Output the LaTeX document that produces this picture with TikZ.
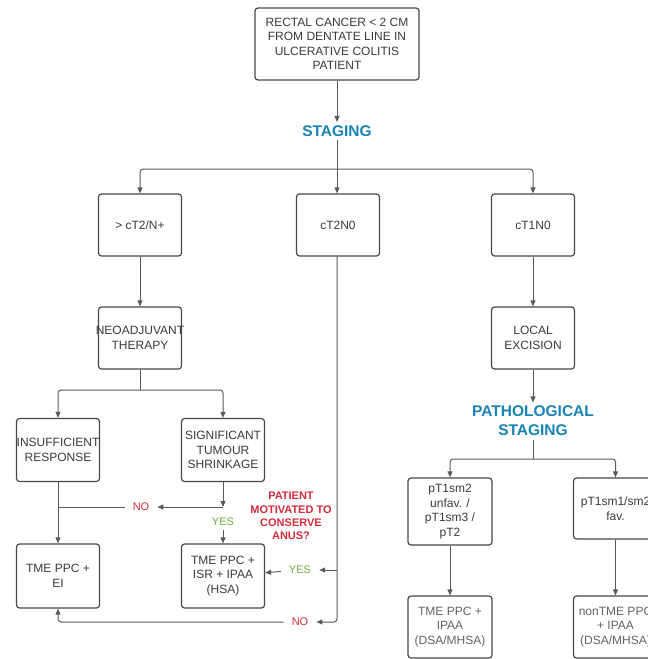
\documentclass[tikz,border=0pt]{standalone}
\usepackage{fontspec}
\setmainfont{Liberation Sans}
\usetikzlibrary{arrows.meta}

\definecolor{boxline}{HTML}{474747}
\definecolor{linkgray}{HTML}{5A5A5A}
\definecolor{txtdark}{HTML}{3A3A3A}
\definecolor{txtgray}{HTML}{626262}
\definecolor{headblue}{HTML}{1883B5}
\definecolor{askred}{HTML}{D12D3A}
\definecolor{yesgreen}{HTML}{6CB33F}

\begin{document}
\begin{tikzpicture}[x=1pt, y=-1pt,
    stepbox/.style={draw=boxline, line width=1.2pt, rounded corners=3pt, align=center,
      inner xsep=0pt, minimum width=83pt, minimum height=62pt, text=txtdark,
      font=\fontsize{12}{14.5}\selectfont},
    head/.style={text=headblue, align=center, font=\fontsize{15.5}{19}\selectfont\bfseries},
    yes/.style={text=yesgreen, inner xsep=8pt, inner ysep=4pt, font=\fontsize{11}{13}\selectfont},
    no/.style={text=askred, inner xsep=8pt, inner ysep=4pt, font=\fontsize{11}{13}\selectfont},
    link/.style={draw=linkgray, line width=1pt, rounded corners=3pt},
    arr/.style={link, -{Triangle[length=6pt,width=5pt]}}]
  \useasboundingbox (0,0) rectangle (648,659);
  % top and staging
  \node[stepbox, minimum width=164pt, minimum height=72pt] (uc) at (337,44)
    {RECTAL CANCER < 2 CM\\FROM DENTATE LINE IN\\ULCERATIVE COLITIS\\PATIENT};
  \node[head] (staging) at (337,131) {STAGING};
  \coordinate (split1) at (337,169);
  % clinical stage
  \node[stepbox] (ct2n) at (140,225) {> cT2/N+};
  \node[stepbox] (ct2n0) at (338,225) {cT2N0};
  \node[stepbox] (ct1n0) at (533,225) {cT1N0};
  % left branch
  \node[stepbox] (neo) at (140,338) {\makebox[83pt]{NEOADJUVANT}\\THERAPY};
  \coordinate (split2) at (140,390);
  \node[stepbox, minimum height=63pt] (insuf) at (58,450) {INSUFFICIENT\\RESPONSE};
  \node[stepbox, minimum height=63pt] (signif) at (223,450) {SIGNIFICANT\\TUMOUR\\SHRINKAGE};
  \coordinate (ask) at (223,507);
  \node[no] (no1) at (141,507) {NO};
  \node[yes] (yes1) at (223,522) {YES};
  \node[text=askred, align=center, font=\fontsize{11}{13.4}\selectfont\bfseries] (motiv) at (291,516)
    {PATIENT\\MOTIVATED TO\\CONSERVE\\ANUS?};
  \node[stepbox, minimum height=64pt] (tmeei) at (58,576) {TME PPC +\\EI};
  \node[stepbox, minimum height=64pt] (tmeisr) at (223,576) {TME PPC +\\ISR + IPAA\\(HSA)};
  \node[yes] (yes2) at (300,570) {YES};
  \node[no] (no2) at (300,622) {NO};
  % right branch
  \node[stepbox] (excis) at (533,338) {LOCAL\\EXCISION};
  \node[head] (patho) at (533,421) {PATHOLOGICAL\\STAGING};
  \coordinate (split3) at (533,459);
  \node[stepbox, minimum width=84pt, minimum height=67pt] (unfav) at (450,511.5) {pT1sm2\\unfav. /\\pT1sm3 /\\pT2};
  \node[stepbox, minimum width=84pt, minimum height=61pt] (fav) at (615.5,508.5) {pT1sm1/sm2\\fav.};
  \node[stepbox, minimum width=84pt, text=txtgray] (tmeipaa) at (450,627) {TME PPC +\\IPAA\\(DSA/MHSA)};
  \node[stepbox, minimum width=84pt, text=txtgray] (ntmeipaa) at (615.5,627) {nonTME PPC\\+ IPAA\\(DSA/MHSA)};

  \draw[arr] (uc) -- (staging);
  \draw[link] (staging) -- (split1);
  \draw[arr] (split1) -| (ct2n.north);
  \draw[arr] (split1) -- (ct2n0.north -| split1);
  \draw[arr] (split1) -| (ct1n0.north);
  \draw[arr] (ct2n) -- (neo);
  \draw[link] (neo) -- (split2);
  \draw[arr] (split2) -| (insuf.north);
  \draw[arr] (split2) -| (signif.north);
  \draw[arr] (signif) -- (ask);
  \draw[arr] (ask) -- (no1.east);
  \draw[link] (no1.west) -- (no1.west -| insuf.south);
  \draw[arr] (insuf) -- (tmeei);
  \draw[arr] (yes1) -- (tmeisr);
  \draw[arr] (ct2n0.south -| split1) |- (no2.east);
  \draw[arr] (yes2.east -| split1) -- (yes2.east);
  \draw[arr] (yes2) -- (tmeisr);
  \draw[arr] (no2.west) -| (tmeei.south);
  \draw[arr] (ct1n0) -- (excis);
  \draw[arr] (excis) -- (patho);
  \draw[link] (patho) -- (split3);
  \draw[arr] (split3) -| (unfav.north);
  \draw[arr] (split3) -| (fav.north);
  \draw[arr] (unfav) -- (tmeipaa);
  \draw[arr] (fav) -- (ntmeipaa);
\end{tikzpicture}
\end{document}
